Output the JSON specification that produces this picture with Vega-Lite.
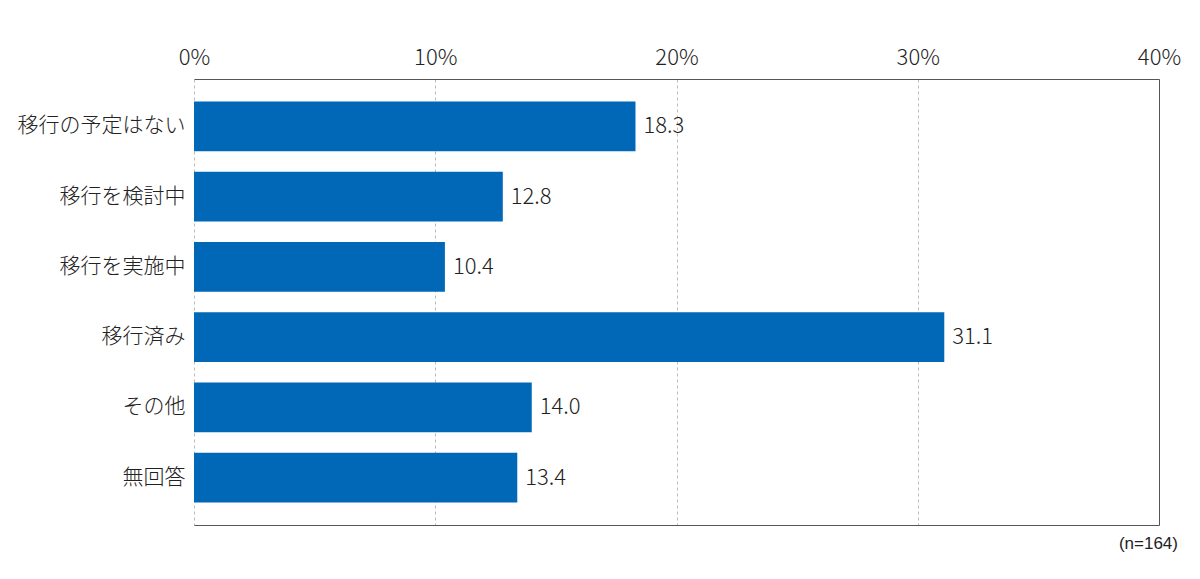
{
  "$schema": "https://vega.github.io/schema/vega-lite/v6.json",
  "width": 965,
  "height": 446,
  "autosize": "none",
  "padding": {"left": 194, "top": 79, "right": 41, "bottom": 54},
  "background": "white",
  "config": {"view": {"stroke": null}},
  "title": {"text": "(n=164)", "orient": "bottom", "anchor": "end", "frame": "group", "fontSize": 17, "font": "Liberation Sans", "fontWeight": "normal", "color": "#222", "offset": 11, "dx": 19},
  "data": {"values": [
    {"category": "移行の予定はない", "value": 18.3},
    {"category": "移行を検討中", "value": 12.8},
    {"category": "移行を実施中", "value": 10.4},
    {"category": "移行済み", "value": 31.1},
    {"category": "その他", "value": 14.0},
    {"category": "無回答", "value": 13.4}
  ]},
  "layer": [
    {
      "mark": {"type": "bar", "color": "#0068b7"},
      "encoding": {
        "y": {"field": "category", "type": "nominal", "sort": null,
          "scale": {"paddingInner": 0.29, "paddingOuter": 0.32},
          "axis": {"title": null, "orient": "left", "domain": false, "ticks": false, "labelPadding": 9, "labelFontSize": 21, "labelFont": "Noto Sans CJK JP", "labelFontWeight": 300, "labelColor": "#222", "grid": false}},
        "x": {"field": "value", "type": "quantitative",
          "scale": {"domain": [0, 40], "nice": false},
          "axis": {"title": null, "orient": "top", "values": [0, 10, 20, 30, 40], "labelExpr": "datum.value + '%'", "ticks": false, "labelPadding": 10, "labelFontSize": 22, "labelFont": "Noto Sans CJK JP", "labelFontWeight": 300, "labelColor": "#222", "domain": true, "domainColor": "#555", "domainWidth": 1, "grid": true, "gridColor": "#bbb", "gridDash": [3, 3], "gridWidth": 1, "labelFlush": false}}
      }
    },
    {
      "mark": {"type": "text", "align": "left", "baseline": "middle", "dx": 8, "fontSize": 22, "font": "Noto Sans CJK JP", "fontWeight": 300, "color": "#222"},
      "encoding": {
        "y": {"field": "category", "type": "nominal", "sort": null,
          "axis": {"title": null, "orient": "right", "labels": false, "ticks": false, "domain": true, "domainColor": "#555", "grid": false}},
        "x": {"field": "value", "type": "quantitative",
          "axis": {"title": null, "orient": "bottom", "labels": false, "ticks": false, "domain": true, "domainColor": "#555", "grid": false}},
        "text": {"field": "value", "type": "quantitative", "format": ".1f"}
      }
    }
  ],
  "resolve": {"axis": {"x": "independent", "y": "independent"}}
}
